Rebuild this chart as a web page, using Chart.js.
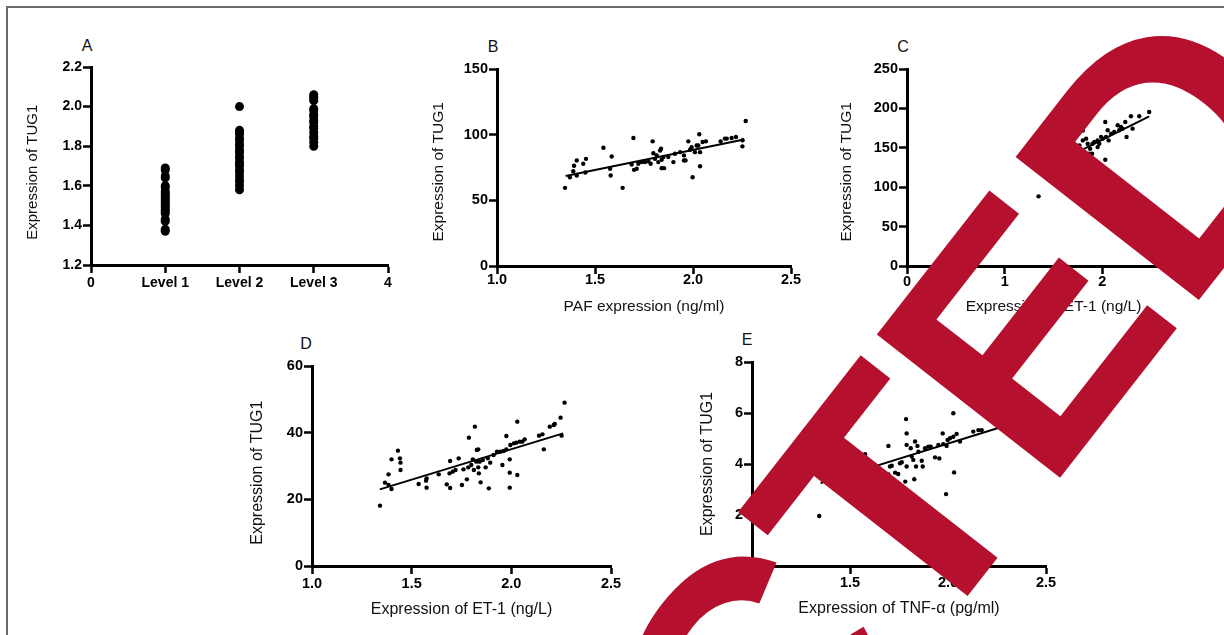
<!DOCTYPE html>
<html lang="en">
<head>
<meta charset="UTF-8">
<title>TUG1 expression panels</title>
<script src="https://cdn.jsdelivr.net/npm/chart.js"></script>
<style>
    body { margin: 0; background: #fff; width: 1224px; height: 635px; overflow: hidden; position: relative; font-family: "Liberation Sans", Arial, sans-serif; }
    .frame { position: absolute; left: 6px; top: 6px; width: 1240px; height: 660px; border-left: 2px solid #6b6b6b; border-top: 2px solid #6b6b6b; }
    .panel { position: absolute; }
    .tag { position: absolute; font-size: 16px; line-height: 16px; transform: translate(-50%, -50%); color: #111; }
    #stamp { position: absolute; left: 0; top: 0; z-index: 5; pointer-events: none; }
</style>
</head>
<body>
<div class="frame"></div>

<div class="tag" style="left:87px;top:46px">A</div>
<div class="tag" style="left:493px;top:47px">B</div>
<div class="tag" style="left:903px;top:47px">C</div>
<div class="tag" style="left:306px;top:344px">D</div>
<div class="tag" style="left:747px;top:340px">E</div>

<div class="panel" style="left:24px;top:55px"><canvas id="chartA" width="378" height="245"></canvas></div>
<div class="panel" style="left:429px;top:57px"><canvas id="chartB" width="376" height="259"></canvas></div>
<div class="panel" style="left:837px;top:57px"><canvas id="chartC" width="377" height="259"></canvas></div>
<div class="panel" style="left:248px;top:354px"><canvas id="chartD" width="377" height="265"></canvas></div>
<div class="panel" style="left:698px;top:350px"><canvas id="chartE" width="362" height="268"></canvas></div>

<canvas id="stamp" width="1224" height="635"></canvas>

<script>
    // Panel A: TUG1 by level
    const aCategories = ['Level 1', 'Level 2', 'Level 3'];
    const aTickLabels = ['0', 'Level 1', 'Level 2', 'Level 3', '4'];
    const aLevel1 = [1.69, 1.68, 1.65, 1.64, 1.60, 1.59, 1.57, 1.56, 1.55, 1.54, 1.53, 1.52, 1.51, 1.50, 1.49, 1.48, 1.47, 1.46, 1.43, 1.42, 1.38, 1.37];
    const aLevel2 = [2.00, 1.88, 1.87, 1.86, 1.84, 1.83, 1.81, 1.80, 1.78, 1.77, 1.75, 1.74, 1.72, 1.71, 1.70, 1.68, 1.67, 1.65, 1.63, 1.62, 1.60, 1.58];
    const aLevel3 = [2.06, 2.05, 2.04, 2.03, 1.99, 1.98, 1.96, 1.95, 1.93, 1.92, 1.90, 1.89, 1.87, 1.85, 1.84, 1.82, 1.80];

    // Panel B: PAF vs TUG1
    const bX = [1.347, 1.372, 1.389, 1.393, 1.407, 1.407, 1.440, 1.454, 1.451, 1.543, 1.577, 1.585, 1.580, 1.641, 1.696, 1.687, 1.699, 1.713, 1.721, 1.738, 1.755, 1.772, 1.784, 1.794, 1.798, 1.806, 1.815, 1.823, 1.832, 1.837, 1.840, 1.840, 1.852, 1.849, 1.874, 1.900, 1.908, 1.934, 1.954, 1.954, 1.962, 1.976, 1.985, 1.993, 1.998, 2.010, 2.019, 2.027, 2.032, 2.036, 2.036, 2.049, 2.066, 2.141, 2.163, 2.172, 2.197, 2.219, 2.252, 2.253, 2.269];
    const bY = [59.5, 67.6, 72.2, 76.3, 80.4, 68.9, 77.8, 81.6, 71.2, 90.0, 74.0, 83.4, 68.9, 59.5, 97.5, 77.3, 73.2, 74.0, 77.8, 79.1, 79.1, 79.8, 77.8, 94.9, 85.9, 81.6, 84.2, 79.1, 88.0, 89.3, 80.9, 74.5, 74.5, 82.9, 82.9, 79.1, 85.5, 86.7, 84.2, 80.4, 80.4, 94.9, 88.5, 90.5, 67.6, 86.7, 91.8, 91.8, 100.3, 86.7, 76.0, 94.4, 94.9, 94.9, 97.0, 97.0, 97.5, 98.2, 91.1, 95.7, 110.4];
    const bFitX = [1.35, 2.26];
    const bFitY = [68.6, 96.3];

    // Panel C: ET-1 vs TUG1 (most of it is under the stamp)
    const cX = [1.347, 1.697, 1.765, 1.80, 1.80, 1.816, 1.834, 1.834, 1.85, 1.867, 1.875, 1.895, 1.90, 1.918, 1.952, 1.952, 1.969, 1.987, 2.003, 2.03, 2.03, 2.038, 2.055, 2.064, 2.09, 2.122, 2.157, 2.173, 2.19, 2.207, 2.235, 2.248, 2.293, 2.31, 2.378, 2.48];
    const cY = [88.4, 151, 153, 172, 159.4, 181.6, 185, 161.6, 155.2, 142.5, 148.8, 142.5, 155.2, 157.3, 159.4, 150.9, 155.2, 163.9, 161.6, 182.8, 134.8, 163.9, 172.2, 159.4, 168, 170, 178.6, 172.2, 176.4, 174.3, 182.8, 163.7, 190, 174.3, 190, 195.5];
    const cFitX = [1.35, 2.48];
    const cFitY = [120, 190];

    // Panel D: ET-1 vs TUG1
    const dX = [1.341, 1.366, 1.384, 1.384, 1.399, 1.399, 1.431, 1.441, 1.444, 1.444, 1.535, 1.572, 1.575, 1.575, 1.636, 1.676, 1.693, 1.693, 1.690, 1.706, 1.720, 1.736, 1.752, 1.760, 1.777, 1.784, 1.787, 1.799, 1.807, 1.812, 1.817, 1.824, 1.827, 1.834, 1.834, 1.837, 1.841, 1.846, 1.857, 1.871, 1.882, 1.887, 1.894, 1.911, 1.928, 1.945, 1.955, 1.961, 1.975, 1.975, 1.992, 1.992, 1.992, 1.995, 2.013, 2.025, 2.030, 2.030, 2.042, 2.055, 2.067, 2.139, 2.156, 2.163, 2.193, 2.213, 2.218, 2.247, 2.252, 2.267];
    const dY = [18.1, 25.0, 24.3, 27.5, 23.1, 32.0, 34.6, 32.3, 31.0, 28.8, 24.6, 25.6, 26.3, 23.5, 27.5, 24.5, 23.4, 31.5, 27.8, 28.3, 28.8, 32.3, 24.3, 29.0, 26.0, 29.6, 38.5, 30.3, 32.0, 28.8, 41.8, 31.3, 34.8, 35.0, 29.6, 27.8, 31.3, 25.1, 31.8, 29.6, 32.3, 23.3, 31.0, 33.3, 34.3, 34.3, 30.3, 34.5, 39.0, 35.0, 32.0, 28.0, 23.5, 36.3, 36.8, 37.0, 43.3, 27.3, 37.3, 37.3, 38.0, 39.1, 39.5, 35.0, 41.8, 42.3, 42.6, 44.5, 39.1, 49.0];
    const dFitX = [1.34, 2.26];
    const dFitY = [23.0, 39.8];

    // Panel E: TNF-a vs TUG1
    const eX = [1.343, 1.577, 1.696, 1.696, 1.704, 1.713, 1.730, 1.746, 1.755, 1.764, 1.786, 1.789, 1.789, 1.782, 1.789, 1.810, 1.815, 1.823, 1.828, 1.832, 1.837, 1.844, 1.849, 1.866, 1.871, 1.883, 1.900, 1.912, 1.934, 1.951, 1.956, 1.973, 1.976, 1.990, 1.993, 1.998, 2.010, 2.027, 2.027, 2.031, 2.044, 2.061, 2.129, 2.155, 2.172];
    const eY = [1.96, 4.38, 4.71, 3.59, 3.90, 3.93, 3.66, 3.61, 4.03, 4.07, 5.76, 5.20, 4.75, 3.31, 3.90, 4.62, 4.29, 4.16, 3.40, 4.88, 3.90, 4.71, 4.48, 4.13, 3.90, 4.62, 4.68, 4.68, 4.26, 4.75, 4.22, 5.20, 4.78, 2.82, 4.71, 4.94, 5.01, 5.99, 5.07, 3.67, 5.18, 4.88, 5.27, 5.33, 5.33];
    const eFitX = [1.35, 2.26];
    const eFitY = [3.25, 5.42];

    const FONT = '"Liberation Sans", Arial, sans-serif';
    const pairs = (xs, ys) => xs.map((x, i) => ({ x: x, y: ys[i] }));
    const oneDp = v => v.toFixed(1);
    const plain = v => String(v);
    // trailing spaces nudge the rotated y titles down a few px, as in the figure
    const yTitle = n => 'Expression of TUG1' + ' '.repeat(n);

    function axisOpts(a, isX, p) {
        return {
            type: 'linear',
            position: isX ? 'bottom' : 'left',
            min: a.min, max: a.max,
            afterFit: s => { if (isX) s.height = p.h; else s.width = p.w; },
            border: { display: true, color: '#000', width: 3 },
            grid: { drawOnChartArea: false, drawTicks: true, tickLength: 8, tickWidth: 2.5, tickColor: '#000' },
            ticks: {
                stepSize: a.step, autoSkip: false, maxRotation: 0, minRotation: 0,
                padding: a.pad, color: '#000', callback: a.label,
                font: { family: FONT, size: p.tickSize, weight: 'bold', lineHeight: 1 }
            },
            title: a.title
                ? { display: true, text: a.title, color: '#111', padding: 0, font: { family: FONT, size: p.titleSize, lineHeight: 1.2 } }
                : { display: false }
        };
    }

    function panel(id, p) {
        const datasets = [{
            data: p.points, pointRadius: p.radius, pointHoverRadius: p.radius,
            backgroundColor: '#000', borderWidth: 0
        }];
        if (p.fit) {
            datasets.push({
                data: p.fit, showLine: true, borderColor: '#000', borderWidth: 2,
                pointRadius: 0, pointHoverRadius: 0
            });
        }
        new Chart(document.getElementById(id), {
            type: 'scatter',
            data: { datasets: datasets },
            options: {
                responsive: false,
                animation: false,
                events: [],
                layout: { padding: { top: 12, right: 14, left: 0, bottom: 0 } },
                plugins: { legend: { display: false }, tooltip: { enabled: false } },
                scales: { x: axisOpts(p.x, true, p), y: axisOpts(p.y, false, p) }
            }
        });
    }

    const aPoints = [].concat(
        aLevel1.map(v => ({ x: 1, y: v })),
        aLevel2.map(v => ({ x: 2, y: v })),
        aLevel3.map(v => ({ x: 3, y: v }))
    );

    panel('chartA', {
        points: aPoints, radius: 4.5, w: 67, h: 35, tickSize: 14, titleSize: 15,
        x: { min: 0, max: 4, step: 1, pad: 3, label: v => aTickLabels[v] },
        y: { min: 1.2, max: 2.2, step: 0.2, pad: 1, label: oneDp, title: yTitle(3) }
    });

    panel('chartB', {
        points: pairs(bX, bY), fit: pairs(bFitX, bFitY), radius: 2.2, w: 68, h: 50, tickSize: 14.5, titleSize: 15.5,
        x: { min: 1, max: 2.5, step: 0.5, pad: -1, label: oneDp, title: 'PAF expression (ng/ml)' },
        y: { min: 0, max: 150, step: 50, pad: 1, label: plain, title: yTitle(2) }
    });

    panel('chartC', {
        points: pairs(cX, cY), fit: pairs(cFitX, cFitY), radius: 2.2, w: 70, h: 50, tickSize: 14.5, titleSize: 15.5,
        x: { min: 0, max: 3, step: 1, pad: 1, label: plain, title: 'Expression of ET-1 (ng/L)' },
        y: { min: 0, max: 250, step: 50, pad: 1, label: plain, title: yTitle(2) }
    });

    panel('chartD', {
        points: pairs(dX, dY), fit: pairs(dFitX, dFitY), radius: 2.2, w: 64, h: 53, tickSize: 14.5, titleSize: 16,
        x: { min: 1, max: 2.5, step: 0.5, pad: 3, label: oneDp, title: 'Expression of ET-1 (ng/L)' },
        y: { min: 0, max: 60, step: 20, pad: 1, label: plain, title: yTitle(3) }
    });

    panel('chartE', {
        points: pairs(eX, eY), fit: pairs(eFitX, eFitY), radius: 2.2, w: 54, h: 52, tickSize: 14.5, titleSize: 16,
        x: { min: 1, max: 2.5, step: 0.5, pad: 2, label: oneDp, title: 'Expression of TNF-\u03b1 (pg/ml)' },
        y: { min: 0, max: 8, step: 2, pad: 1, label: plain, title: yTitle(0) }
    });

    // retraction stamp across the right half
    const stamp = document.getElementById('stamp').getContext('2d');
    stamp.fillStyle = '#b5112e';
    stamp.font = 'bold 338px ' + FONT;
    stamp.translate(52, 1768);
    stamp.rotate(-52 * Math.PI / 180);
    stamp.fillText('RETRACTED', 0, 0);
</script>
</body>
</html>
